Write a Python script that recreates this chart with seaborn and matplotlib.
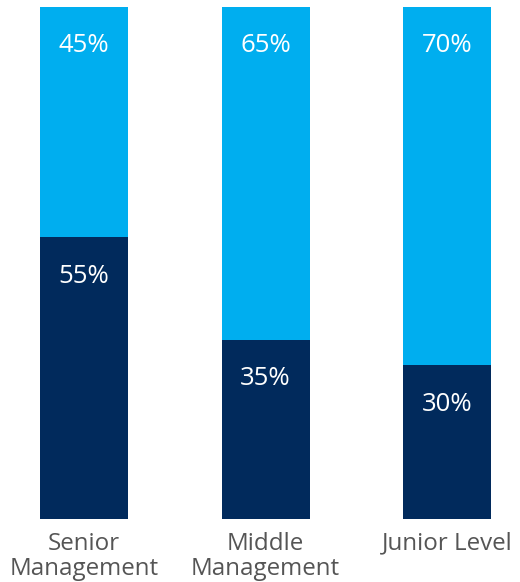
import matplotlib
matplotlib.use("Agg")
import matplotlib.pyplot as plt
import seaborn as sns
import pandas as pd

categories = ["Senior\nManagement", "Middle\nManagement", "Junior Level"]
lower_share = [55, 35, 30]   # dark segment (bottom)
upper_share = [45, 65, 70]   # light segment (top)

dark = "#012A5C"
light = "#00AEEF"

sns.set_theme(style="white")
plt.rcParams["font.family"] = ["Open Sans", "DejaVu Sans"]

df = pd.DataFrame({
    "category": categories,
    "lower": lower_share,
    "total": [a + b for a, b in zip(lower_share, upper_share)],
})

W, H = 520, 582
fig = plt.figure(figsize=(W / 100, H / 100), dpi=100)
ax = fig.add_axes([0, (H - 519) / H, 1, 512 / H])

sns.barplot(data=df, x="category", y="total", color=light, width=0.485,
            saturation=1, linewidth=0, ax=ax)
sns.barplot(data=df, x="category", y="lower", color=dark, width=0.485,
            saturation=1, linewidth=0, ax=ax)

for i, (lo, up) in enumerate(zip(lower_share, upper_share)):
    ax.text(i, lo + up - 7.6, f"{up}%", ha="center", va="center",
            color="white", fontsize=18.5)
    ax.text(i, lo - 7.6, f"{lo}%", ha="center", va="center",
            color="white", fontsize=18.5)

ax.set_xlim(-0.463, 2.402)
ax.set_ylim(0, 100)
ax.set_xlabel("")
ax.set_ylabel("")
ax.set_yticks([])
ax.tick_params(axis="x", length=0, pad=9, labelsize=17.4, labelcolor="#555555")
for lab in ax.get_xticklabels():
    lab.set_linespacing(1.08)
sns.despine(ax=ax, left=True, bottom=True)

fig.savefig("out.png", dpi=100)
